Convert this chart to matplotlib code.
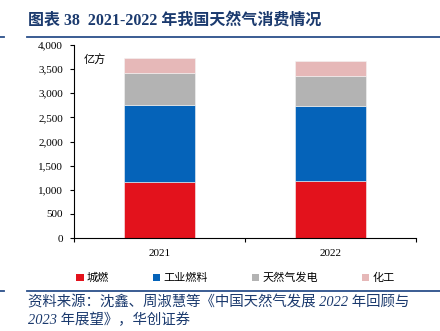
import matplotlib
matplotlib.use("Agg")
import matplotlib.pyplot as plt
import numpy as np
from matplotlib.lines import Line2D
from matplotlib.patches import Patch

# 亿方
years = ["2021", "2022"]
series_names = ["城燃", "工业燃料", "天然气发电", "化工"]
city_gas = [1160, 1175]
industrial_fuel = [1600, 1555]
power_gen = [655, 620]
chemical = [320, 315]
series_colors = ["#E3121C", "#0563B9", "#B3B3B3", "#E6B8B8"]

yticks = [0, 500, 1000, 1500, 2000, 2500, 3000, 3500, 4000]
ytick_labels = ["{:,}".format(v) for v in yticks]

serif = ["Liberation Serif", "Noto Sans CJK SC"]
cjk = ["Noto Sans CJK SC", "DejaVu Sans"]
navy = "#1B3A6E"

fig = plt.figure(figsize=(4.4, 3.31), dpi=100)
ax = fig.add_axes([74 / 440, 1 - 238 / 331, 342 / 440, 193 / 331])

x = np.arange(len(years))
bottom = np.zeros(len(years))
for vals, color, name in zip([city_gas, industrial_fuel, power_gen, chemical], series_colors, series_names):
    ax.bar(x, vals, width=0.41, bottom=bottom, color=color, label=name,
           edgecolor="#f4f4f4", linewidth=0.4)
    bottom += np.array(vals)

ax.set_xlim(-0.5, len(years) - 0.5)
ax.set_ylim(0, 4000)
ax.set_yticks(yticks)
ax.set_yticklabels(ytick_labels, family=serif, fontsize=8)
ax.set_xticks(x)
ax.set_xticklabels(years, family=serif, fontsize=8)
ax.set_xticks([-0.5, 0.5, 1.5], minor=True)
ax.tick_params(axis="x", which="major", length=0, pad=8)
ax.tick_params(axis="x", which="minor", length=3, width=0.8, direction="out")
ax.tick_params(axis="y", length=3, width=0.8, direction="out", pad=5)
for s in ["top", "right"]:
    ax.spines[s].set_visible(False)
ax.spines["left"].set_linewidth(0.8)
ax.spines["bottom"].set_linewidth(0.8)

ax.text(0.027, 0.925, "亿方", transform=ax.transAxes, family=cjk, fontsize=8,
        ha="left", va="center")

# legend
handles = [Patch(facecolor=c, edgecolor="none") for c in series_colors]
fig.legend(handles, series_names, loc="center left", bbox_to_anchor=(72 / 440, 1 - 278 / 331),
           ncol=4, frameon=False, prop={"family": cjk, "size": 8},
           handlelength=0.65, handleheight=0.65, handletextpad=0.25, columnspacing=4.0,
           borderaxespad=0)

# title and rules
fig.text(28 / 440, 1 - 21 / 331, "图表 38  2021-2022 年我国天然气消费情况", family=serif,
         fontsize=11.5, fontweight="bold", color=navy, ha="left", va="center")
line_color = "#2B4F8A"
for yy in [37, 291]:
    fig.add_artist(Line2D([27 / 440, 1], [1 - yy / 331] * 2, color=line_color, lw=1.3))
    fig.add_artist(Line2D([0, 4 / 440], [1 - yy / 331] * 2, color=line_color, lw=1.3))

fig.text(28 / 440, 1 - 302 / 331, "资料来源：沈鑫、周淑慧等《中国天然气发展 2022 年回顾与",
         family=serif, style="italic", fontsize=10.4, color=navy, ha="left", va="center")
fig.text(28 / 440, 1 - 320 / 331, "2023 年展望》，华创证券",
         family=serif, style="italic", fontsize=10.4, color=navy, ha="left", va="center")

fig.savefig("out.png", dpi=100)
